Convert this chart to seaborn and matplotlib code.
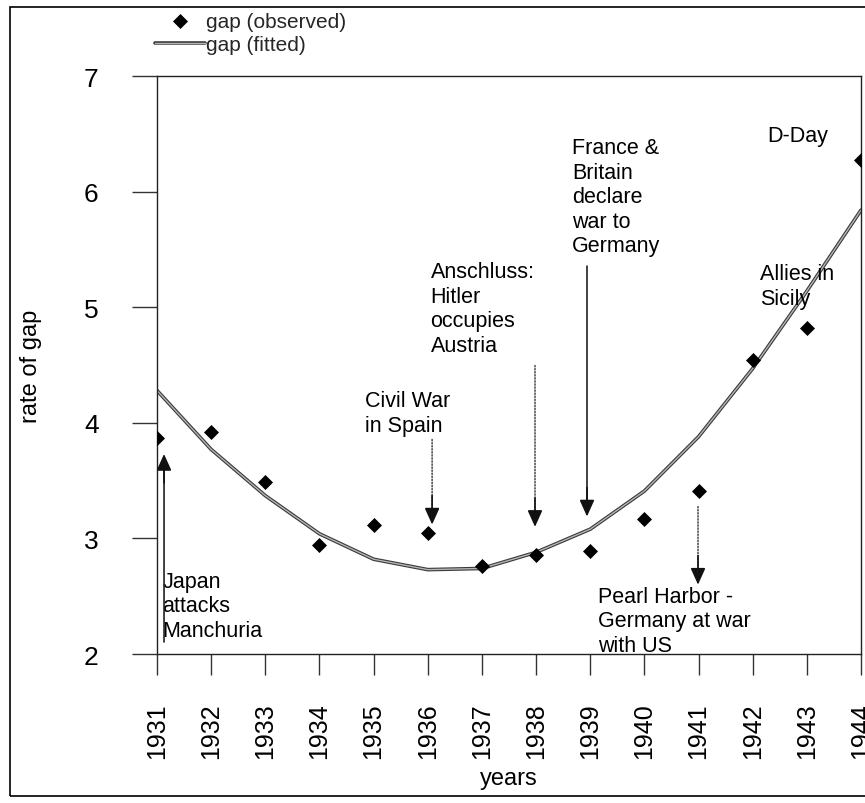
import numpy as np
import pandas as pd
import matplotlib
matplotlib.use('Agg')
import matplotlib.pyplot as plt
import matplotlib.patheffects as pe
from matplotlib.patches import Rectangle
import seaborn as sns

# data
years = [1931, 1932, 1933, 1934, 1935, 1936, 1937,
         1938, 1939, 1940, 1941, 1942, 1943, 1944]
gap_observed = [3.87, 3.92, 3.49, 2.94, 3.12, 3.05, 2.76,
                2.86, 2.89, 3.17, 3.41, 4.54, 4.82, 6.27]
gap_fitted = [4.28, 3.77, 3.37, 3.04, 2.82, 2.73, 2.74,
              2.88, 3.08, 3.41, 3.88, 4.47, 5.14, 5.84]

# events: (label, text x, text top y, arrow x, arrow start y, arrow tip y, dotted)
events = [
    ('Japan\nattacks\nManchuria', 1931.10, 2.72, 1931.13, 2.08, 3.73, False),
    ('Civil War\nin Spain', 1934.84, 4.28, 1936.08, 3.88, 3.12, True),
    ('Anschluss:\nHitler\noccupies\nAustria', 1936.05, 5.40, 1937.98, 4.52, 3.10, True),
    ('France &\nBritain\ndeclare\nwar to\nGermany', 1938.66, 6.47, 1938.94, 5.38, 3.19, False),
    ('Pearl Harbor -\nGermany at war\nwith US', 1939.14, 2.59, 1940.99, 3.30, 2.60, True),
    ('D-Day', 1942.27, 6.58, None, None, None, False),
    ('Allies in\nSicily', 1942.14, 5.38, None, None, None, False),
]

df = pd.DataFrame({'year': years, 'observed': gap_observed, 'fitted': gap_fitted})

sns.set_style('white')
plt.rcParams['font.family'] = ['Liberation Sans', 'DejaVu Sans']

fig = plt.figure(figsize=(8.65, 8.04), dpi=100)
ax = fig.add_axes([0.1815, 0.1853, 0.8139, 0.7189])

sns.lineplot(x='year', y='fitted', data=df, ax=ax, color='#b5b5b5', lw=1.0,
             label='gap (fitted)',
             path_effects=[pe.Stroke(linewidth=2.6, foreground='#3a3a3a'), pe.Normal()])
sns.scatterplot(x='year', y='observed', data=df, ax=ax, marker='D', s=50,
                color='black', edgecolor='black', label='gap (observed)', zorder=5)

for label, tx, ty, axx, y0, y1, dotted in events:
    ax.text(tx, ty, label, fontsize=15.5, va='top', ha='left', linespacing=1.22,
            color='black')
    if axx is None:
        continue
    if dotted:
        ax.annotate('', xy=(axx, y1), xytext=(axx, y0),
                    arrowprops=dict(arrowstyle='-', ls=(0, (1, 1.2)), lw=1.0, color='#333333'))
    else:
        ax.annotate('', xy=(axx, y1), xytext=(axx, y0),
                    arrowprops=dict(arrowstyle='-', lw=1.2, color='#222222'))
    d = 0.25 if y1 < y0 else -0.25
    ax.annotate('', xy=(axx, y1), xytext=(axx, y1 + d),
                arrowprops=dict(arrowstyle='-|>,head_length=1.0,head_width=0.45',
                                lw=1.2, color='#111111', shrinkA=0, shrinkB=0))

ax.set_xlim(1931, 1944)
ax.set_ylim(2, 7)
ax.set_xticks(years)
ax.set_xticklabels([str(y) for y in years], rotation=90, fontsize=18)
ax.set_yticks([2, 3, 4, 5, 6, 7])
ax.set_yticklabels(['2', '3', '4', '5', '6', '7'], fontsize=19)
ax.tick_params(axis='x', bottom=True, direction='out', length=15, width=1, pad=20,
               color='#333333', labelcolor='black')
ax.tick_params(axis='y', left=True, direction='out', length=18, width=1, pad=24,
               color='#333333', labelcolor='black')
ax.set_xlabel('years', fontsize=17, labelpad=6, color='black')
ax.set_ylabel('rate of gap', fontsize=17, labelpad=30, color='black')

for s in ['left', 'bottom', 'top', 'right']:
    ax.spines[s].set_color('#222222')
    ax.spines[s].set_linewidth(1.0)

h, l = ax.get_legend_handles_labels()
ax.legend(h[::-1], l[::-1], loc='upper left', bbox_to_anchor=(0.16, 1.005),
          bbox_transform=fig.transFigure, frameon=False, fontsize=15,
          handlelength=2.4, handletextpad=0.05, labelspacing=0.2, borderpad=0.3)

fig.patches.append(Rectangle((0.0116, 0.009), 1.2, 0.981, transform=fig.transFigure,
                             fill=False, edgecolor='black', lw=1.2))

fig.savefig('out.png', dpi=100)
